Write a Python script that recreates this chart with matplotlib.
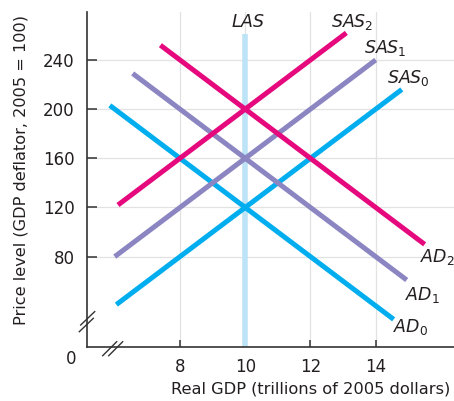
import matplotlib
matplotlib.use("Agg")
import matplotlib.pyplot as plt
from matplotlib.lines import Line2D

plt.rcParams['font.family'] = ['DejaVu Sans']
plt.rcParams['mathtext.fontset'] = 'custom'
plt.rcParams['mathtext.rm'] = 'DejaVu Sans'
plt.rcParams['mathtext.it'] = 'DejaVu Sans:italic'

# ---- data ----
x_ticks = [8, 10, 12, 14]
y_ticks = [80, 120, 160, 200, 240]

las_x = [10, 10]
las_y = [6.5, 261]

sas0_x = [6.05, 14.8]
sas0_y = [41, 216]
sas1_x = [6.0, 14.0]
sas1_y = [80, 240]
sas2_x = [6.1, 13.1]
sas2_y = [122, 262]

ad0_x = [5.85, 14.55]
ad0_y = [203, 29]
ad1_x = [6.55, 14.95]
ad1_y = [229, 61]
ad2_x = [7.4, 15.5]
ad2_y = [252, 90]

c0 = '#00aeef'
c1 = '#8b86c2'
c2 = '#e6097e'
c_las = '#bde3f6'

W, H = 454, 401
fig = plt.figure(figsize=(W / 100, H / 100), dpi=100)
ax = fig.add_axes([87 / W, 1 - 347 / H, 1 - 87 / W, (347 - 12) / H])
ax.set_xlim(5.15, 16.40)
ax.set_ylim(6.5, 279)

for t in x_ticks:
    ax.axvline(t, color='#e2e2e2', lw=0.9, zorder=0)
for t in y_ticks:
    ax.axhline(t, color='#e2e2e2', lw=0.9, zorder=0)

lw = 3.6
ax.plot(las_x, las_y, color=c_las, lw=4.0, solid_capstyle='butt', zorder=2)
ax.plot(sas0_x, sas0_y, color=c0, lw=lw, solid_capstyle='butt', zorder=3)
ax.plot(ad0_x, ad0_y, color=c0, lw=lw, solid_capstyle='butt', zorder=3)
ax.plot(sas1_x, sas1_y, color=c1, lw=lw, solid_capstyle='butt', zorder=3)
ax.plot(ad1_x, ad1_y, color=c1, lw=lw, solid_capstyle='butt', zorder=3)
ax.plot(sas2_x, sas2_y, color=c2, lw=lw, solid_capstyle='butt', zorder=3)
ax.plot(ad2_x, ad2_y, color=c2, lw=lw, solid_capstyle='butt', zorder=3)

lab_kw = dict(fontsize=12.5, color='#231f20', ha='center', va='center')
ax.text(10.09, 270.5, r'$\mathit{LAS}$', **lab_kw)
ax.text(13.28, 271, r'$\mathit{SAS}_\mathrm{2}$', **lab_kw)
ax.text(14.29, 249.8, r'$\mathit{SAS}_\mathrm{1}$', **lab_kw)
ax.text(14.99, 225.4, r'$\mathit{SAS}_\mathrm{0}$', **lab_kw)
ax.text(15.88, 79.7, r'$\mathit{AD}_\mathrm{2}$', **lab_kw)
ax.text(15.42, 48.8, r'$\mathit{AD}_\mathrm{1}$', **lab_kw)
ax.text(15.06, 22.8, r'$\mathit{AD}_\mathrm{0}$', **lab_kw)

ax.set_xticks(x_ticks)
ax.set_yticks(y_ticks)
ax.tick_params(direction='in', length=5, width=1.1, colors='#333333',
               labelsize=12, labelcolor='#231f20')
ax.tick_params(axis='y', length=7, pad=9)
ax.tick_params(axis='x', pad=8)
for s in ['top', 'right']:
    ax.spines[s].set_visible(False)
for s in ['left', 'bottom']:
    ax.spines[s].set_color('#333333')
    ax.spines[s].set_linewidth(1.2)

def px(x, y):
    return x / W, 1 - y / H

# break marks
for (x1, y1, x2, y2) in [(79.3, 331.7, 93.3, 318.3), (80.7, 325.0, 94.7, 311.6),
                         (102.7, 355.7, 116.7, 341.7), (108.7, 355.7, 122.7, 341.7)]:
    a = px(x1, y1); b = px(x2, y2)
    fig.add_artist(Line2D([a[0], b[0]], [a[1], b[1]], transform=fig.transFigure,
                          color='#333333', lw=1.0))

fig.text(*px(71, 359), '0', fontsize=12, color='#231f20', ha='center', va='center')
fig.text(*px(311, 389), 'Real GDP (trillions of 2005 dollars)', fontsize=11.7,
         color='#231f20', ha='center', va='center')
fig.text(*px(21, 170), 'Price level (GDP deflator, 2005 = 100)', fontsize=11.6,
         color='#231f20', ha='center', va='center', rotation=90)

fig.savefig('out.png', dpi=100)
